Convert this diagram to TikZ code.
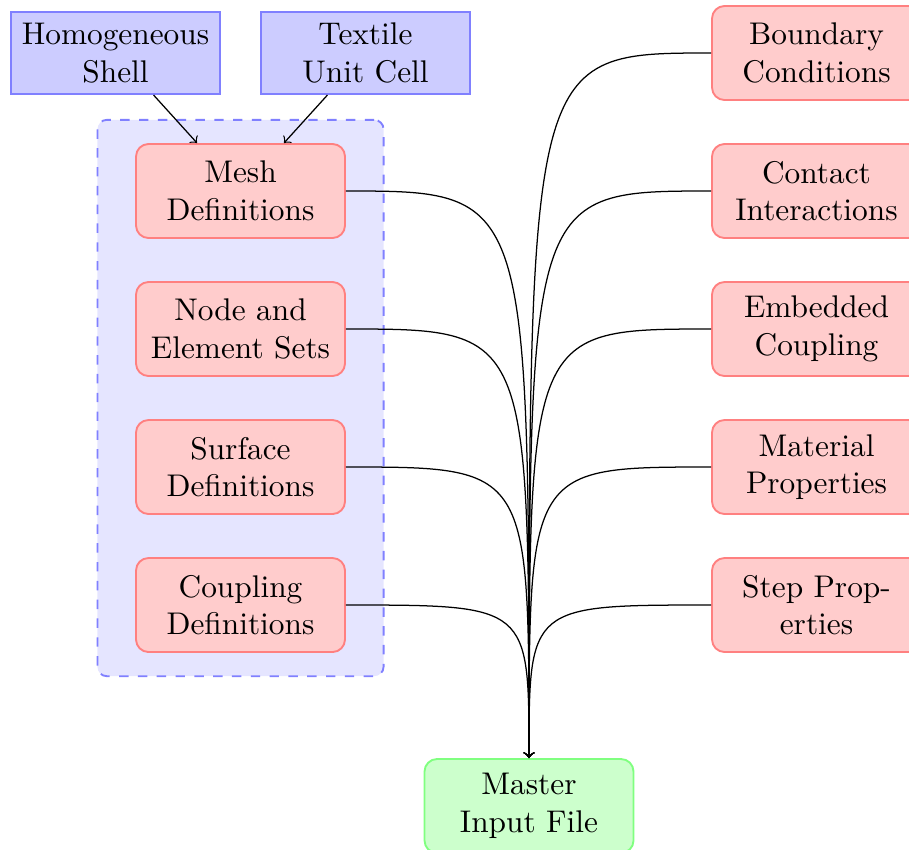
\documentclass[tikz,border=0pt]{standalone}
\usetikzlibrary{fit,backgrounds}
\tikzset{
  basebox/.style={text width=6em, align=center, semithick, inner sep=0.3333em},
  srcbox/.style={basebox, draw=blue!50, fill=blue!20, minimum height=26.2pt},
  partbox/.style={basebox, draw=red!50, fill=red!20, rounded corners, minimum height=30pt},
  masterbox/.style={basebox, draw=green!50, fill=green!20, rounded corners, minimum height=30pt},
  groupbox/.style={draw=blue!50, fill=blue!10, dashed, semithick, rounded corners=3pt, inner xsep=12pt, inner ysep=7.4pt},
  feed/.style={->}
}
\begin{document}
\begin{tikzpicture}[x=0.31898pt, y=-0.31898pt]
\useasboundingbox (0,0) rectangle (909,849);
% sources
\node[srcbox] (homog) at (115.5,53) {Homogeneous Shell};
\node[srcbox] (textile) at (365.5,53) {Textile Unit Cell};
% left column
\node[partbox] (mesh) at (240.5,191) {Mesh Definitions};
\node[partbox] (sets) at (240.5,329) {Node and Element Sets};
\node[partbox] (surf) at (240.5,467) {Surface Definitions};
\node[partbox] (coup) at (240.5,605) {Coupling Definitions};
% right column
\node[partbox] (bc) at (816.5,53) {Boundary Conditions};
\node[partbox] (contact) at (816.5,191) {Contact Interactions};
\node[partbox] (embed) at (816.5,329) {Embedded Coupling};
\node[partbox] (mat) at (816.5,467) {Material Properties};
\node[partbox] (stepprop) at (816.5,605) {Step Properties};
% master
\node[masterbox] (master) at (529,806) {Master Input File};
% group
\begin{scope}[on background layer]
\node[groupbox, fit=(mesh)(coup)] (group) {};
\end{scope}
% arrows
\draw[feed] (homog) -- (mesh);
\draw[feed] (textile) -- (mesh);
\foreach \n in {mesh,sets,surf,coup}{
  \draw[feed] (\n.east) .. controls (master.north |- \n.east) .. (master.north);
}
\foreach \n in {bc,contact,embed,mat,stepprop}{
  \draw[feed] (\n.west) .. controls (master.north |- \n.west) .. (master.north);
}
\end{tikzpicture}
\end{document}
